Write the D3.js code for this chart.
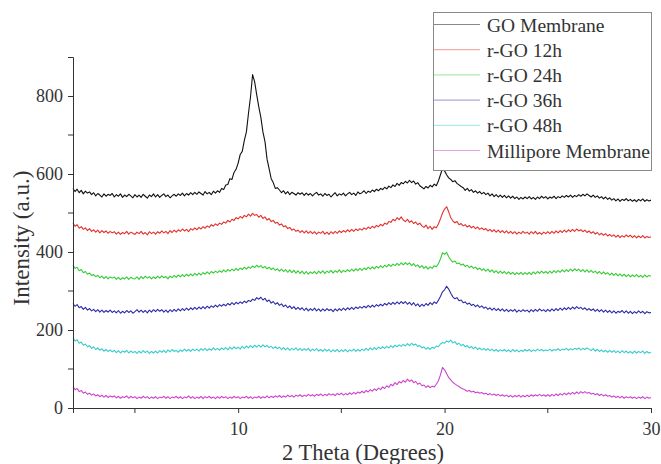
<!DOCTYPE html>
<html><head><meta charset="utf-8">
<script src="https://cdn.jsdelivr.net/npm/d3@7"></script>
<style>
html,body{margin:0;padding:0;background:#fff;}
</style></head>
<body><svg id="chart" width="661" height="464"></svg>
<script>
// 2-theta grid: 2.0 .. 30.0 step 0.1 (281 points)
const xStart = 2.0, xStep = 0.1;
const seriesNames = ["GO Membrane","r-GO 12h","r-GO 24h","r-GO 36h","r-GO 48h","Millipore Membrane"];
const seriesColors = ["#111111","#e3302c","#34cc34","#2b2ba6","#36cccc","#cc44cc"];
const xTicks = [10,20,30];
const xMinorTicks = [5,15,25];
const yTicks = [0,200,400,600,800];
const yMinorTicks = [100,300,500,700];

const goMembrane = [
563,555,561,552,558,549,556,551,554,547,
552,544,550,546,541,549,543,548,545,550,
541,547,543,549,540,546,542,548,544,539,
547,541,546,540,548,543,538,546,542,549,
541,547,540,545,549,542,546,539,544,548,
543,549,545,551,544,550,546,552,547,553,
548,554,550,546,555,549,553,547,556,551,
557,553,563,560,572,573,588,586,604,612,
628,650,658,686,708,755,798,855,836,803,
772,745,708,683,638,614,588,578,563,565,
559,552,557,549,555,547,553,550,546,552,
548,552,545,551,546,550,544,549,553,546,
549,543,550,545,548,541,547,552,544,549,
546,551,544,549,553,547,551,545,554,549,
552,557,550,556,553,559,555,561,557,563,
560,566,562,569,565,572,568,576,571,578,
575,581,577,584,578,582,574,578,570,566,
562,568,564,571,567,574,570,582,598,614,
608,598,590,586,580,583,576,572,568,565,
558,563,556,560,553,557,551,555,549,553,
547,551,544,549,542,547,541,546,540,545,
539,544,538,543,537,541,535,540,536,541,
537,542,536,540,535,541,537,543,538,542,
536,541,538,543,537,542,539,544,540,545,
541,546,540,545,542,547,543,548,544,549,
545,541,546,540,544,538,542,536,541,535,
539,533,537,531,536,530,535,532,537,531,
535,530,534,529,535,531,536,530,534,531,
533];

const rGO12h = [
474,466,470,461,465,458,462,455,460,453,
457,451,456,449,455,450,454,448,453,449,
452,446,451,445,450,447,453,446,451,448,
445,451,447,453,446,450,444,452,447,451,
446,452,448,454,449,453,447,455,450,456,
451,457,453,459,454,458,452,460,456,462,
457,463,459,465,461,467,463,470,466,472,
468,474,471,477,474,481,477,484,481,488,
485,491,487,494,490,497,492,499,494,496,
489,494,486,490,482,486,478,481,474,476,
469,472,465,467,460,463,456,459,453,456,
450,455,449,454,448,453,447,452,446,451,
448,453,446,451,445,452,447,453,448,454,
450,455,451,457,452,458,453,459,455,460,
456,462,458,464,460,466,462,468,465,471,
467,474,471,478,476,484,480,488,483,490,
482,478,484,476,480,473,477,470,474,467,
463,469,460,466,458,465,462,472,485,500,
510,516,503,488,480,475,478,470,473,467,
470,464,468,462,466,460,464,458,462,457,
460,454,458,452,457,451,456,450,455,449,
454,448,453,447,452,446,451,447,453,448,
451,446,452,447,453,446,450,445,451,447,
452,447,453,448,454,449,455,450,456,451,
457,452,458,453,459,454,457,452,456,450,
454,448,452,446,450,444,448,443,447,441,
445,440,444,438,443,437,442,438,444,439,
443,437,442,436,441,437,442,436,440,437,
439];

const rGO24h = [
366,358,361,352,355,347,350,343,346,340,
342,337,340,334,338,332,337,331,336,333,
336,330,335,329,334,331,336,330,335,332,
331,336,330,337,332,338,333,337,331,336,
332,338,333,339,334,337,331,338,334,340,
335,341,336,342,337,343,338,344,339,345,
340,346,341,347,343,349,344,350,346,351,
347,352,348,354,349,355,351,356,352,358,
353,359,355,361,356,362,358,364,360,366,
361,365,359,363,357,361,355,359,353,357,
351,356,350,355,348,354,347,353,346,352,
345,351,344,350,343,349,345,350,344,351,
346,352,345,351,347,353,346,352,348,354,
347,353,349,355,350,356,351,357,352,358,
353,359,355,361,356,362,357,363,359,365,
360,366,362,368,363,369,365,371,366,372,
367,373,368,372,365,370,363,367,360,365,
358,363,356,362,358,365,362,370,382,398,
394,399,388,380,374,377,370,372,366,369,
363,366,360,364,358,361,355,359,353,357,
351,356,349,354,347,352,346,351,345,350,
344,349,343,348,342,347,343,348,342,347,
343,348,342,349,344,350,345,351,346,350,
345,351,346,352,347,353,348,354,349,355,
350,356,351,357,352,356,350,355,349,354,
348,353,347,351,345,350,344,349,343,347,
341,346,340,345,339,344,338,343,337,342,
336,341,337,342,336,340,335,341,336,340,
338];

const rGO36h = [
268,261,265,257,260,253,258,251,255,249,
253,247,252,246,251,245,250,246,251,245,
249,244,250,243,248,244,250,245,249,243,
247,252,246,251,245,250,244,251,246,252,
247,253,248,252,246,251,245,252,247,253,
248,254,249,255,250,256,251,257,252,258,
253,259,254,260,255,261,256,262,258,264,
259,265,261,266,262,268,264,270,265,271,
267,272,268,274,270,276,273,279,276,283,
279,284,277,281,273,277,269,273,266,270,
263,267,260,264,257,262,255,260,253,258,
252,257,250,256,249,255,250,256,249,254,
248,254,249,255,250,253,247,254,249,255,
250,256,251,257,252,258,253,259,255,260,
256,261,257,263,258,264,259,265,261,266,
262,268,264,270,265,271,266,272,267,273,
268,273,266,271,264,270,262,267,260,266,
261,268,263,270,265,272,268,276,286,298,
303,312,305,294,285,280,283,275,277,270,
272,266,269,263,266,260,264,258,262,256,
259,253,257,251,256,250,255,249,254,248,
253,247,252,248,253,246,251,247,252,248,
251,246,252,247,253,248,254,249,252,247,
253,248,254,249,255,250,256,251,257,252,
258,253,259,254,260,255,258,253,257,251,
255,250,254,248,253,247,252,246,251,245,
250,244,249,243,248,245,250,244,249,243,
248,242,247,243,249,244,248,242,247,244,
245];

const rGO48h = [
180,172,175,166,169,161,164,157,160,153,
157,150,154,148,152,146,150,145,149,144,
148,142,147,141,146,143,148,141,146,142,
145,140,146,141,147,142,146,140,145,141,
146,141,147,143,148,142,149,144,150,145,
148,143,149,145,151,146,150,145,151,147,
151,146,152,148,153,147,152,148,154,149,
153,148,154,150,155,149,156,151,157,152,
156,151,158,153,159,154,160,155,161,156,
161,156,162,157,160,155,158,153,157,152,
156,150,155,149,154,148,153,149,154,148,
153,147,152,148,153,146,151,147,152,146,
150,145,151,146,150,144,149,145,150,144,
149,145,150,144,149,146,151,145,150,146,
151,147,153,148,154,149,155,150,156,152,
157,153,158,154,160,155,161,157,162,158,
163,159,165,160,166,161,164,158,160,154,
157,151,155,150,156,153,159,157,164,168,
166,172,169,174,167,170,163,166,160,163,
157,160,154,158,152,156,150,154,149,153,
148,152,147,151,146,150,145,149,146,150,
145,149,144,150,145,149,144,148,145,150,
146,150,145,149,146,151,147,150,146,149,
147,151,146,150,148,152,147,151,149,153,
148,152,149,153,150,154,149,153,150,154,
151,147,152,146,150,145,149,144,148,143,
148,143,147,142,146,141,147,142,146,141,
145,140,146,141,145,142,146,140,145,141,
143];

const millipore = [
54,47,50,42,45,38,41,35,38,33,
36,31,34,29,33,28,32,27,31,28,
31,26,30,25,29,27,31,25,30,26,
29,24,28,25,30,26,29,24,28,25,
29,24,28,26,30,25,29,24,28,26,
30,25,29,24,28,26,31,25,29,24,
28,25,30,24,29,26,30,25,28,24,
29,25,30,26,29,24,28,25,30,26,
29,24,28,26,30,25,29,24,28,26,
30,25,29,26,31,26,30,27,31,28,
32,27,31,28,33,29,32,28,33,30,
34,29,33,30,35,31,34,30,35,32,
36,31,35,32,37,33,36,32,37,34,
38,33,37,34,39,35,40,36,41,38,
43,39,45,41,47,43,49,45,51,47,
54,50,57,53,61,57,65,60,68,64,
71,66,74,68,72,65,68,61,64,57,
59,53,57,52,56,54,61,70,85,104,
98,88,78,72,66,62,58,55,51,49,
46,43,45,41,43,39,41,38,40,36,
38,34,37,33,36,32,35,31,34,30,
33,29,32,28,32,29,33,28,32,29,
33,29,34,30,34,31,35,31,34,30,
34,30,35,31,36,32,37,33,38,34,
39,35,40,36,41,37,42,38,42,38,
40,36,38,34,37,32,35,31,34,30,
32,28,31,27,30,26,30,25,29,26,
29,25,28,24,28,25,29,24,28,25,
27];

const seriesValues = [goMembrane, rGO12h, rGO24h, rGO36h, rGO48h, millipore];

const FONT = "'Liberation Serif','Times New Roman',Times,serif";
const TXT = "#333";
const svg = d3.select("#chart");
const x = d3.scaleLinear().domain([2,30]).range([73, 651]);
const y = d3.scaleLinear().domain([0,900]).range([408, 57]);

// series lines
const line = d3.line().x((d,i)=>x(xStart + i*xStep)).y(d=>y(d));
seriesValues.forEach((vals,k)=>{
  svg.append("path").datum(vals)
    .attr("fill","none")
    .attr("stroke",seriesColors[k])
    .attr("stroke-width",1.1)
    .attr("stroke-linejoin","round")
    .attr("d",line);
});

// axes
const xAxis = d3.axisBottom(x).tickValues(xTicks).tickFormat(d3.format("d")).tickSizeOuter(0).tickSize(5).tickPadding(9);
const gx = svg.append("g").attr("transform",`translate(0,${y(0)})`).call(xAxis);
gx.append("g").selectAll("line").data(xMinorTicks).join("line")
  .attr("x1",d=>x(d)).attr("x2",d=>x(d)).attr("y1",0).attr("y2",5);

const yAxis = d3.axisLeft(y).tickValues(yTicks).tickSizeOuter(0).tickSize(5).tickPadding(5);
const gy = svg.append("g").attr("transform",`translate(${x(2)},0)`).call(yAxis);
gy.append("g").selectAll("line").data(yMinorTicks).join("line")
  .attr("x1",0).attr("x2",-5).attr("y1",d=>y(d)).attr("y2",d=>y(d));
[gx,gy].forEach(g=>{
  g.attr("font-family",null).attr("font-size",null);
  g.selectAll("path.domain, line").attr("stroke","#333");
  g.selectAll("text").style("font-family",FONT).style("font-size","18px").attr("fill",TXT);
});

// axis titles
svg.append("text").attr("x",363).attr("y",460).attr("text-anchor","middle")
  .style("font-family",FONT).style("font-size","22.5px").attr("fill",TXT).text("2 Theta (Degrees)");
svg.append("text").attr("transform","translate(29,238) rotate(-90)").attr("text-anchor","middle")
  .style("font-family",FONT).style("font-size","23px").attr("fill",TXT).text("Intensity (a.u.)");

// legend
const lg = svg.append("g");
lg.append("rect").attr("x",433.5).attr("y",12.5).attr("width",218).attr("height",158)
  .attr("fill","#fff").attr("stroke","#8a8a8a").attr("stroke-width",1);
seriesNames.forEach((name,k)=>{
  const cy = 24.5 + k*25.2;
  lg.append("line").attr("x1",434).attr("x2",480).attr("y1",cy).attr("y2",cy)
    .attr("stroke",seriesColors[k]).attr("stroke-width",1).attr("stroke-opacity",0.5);
  lg.append("text").attr("x",487).attr("y",cy+7)
    .style("font-family",FONT).style("font-size","19.5px").attr("fill",TXT).text(name);
});
</script></body></html>
